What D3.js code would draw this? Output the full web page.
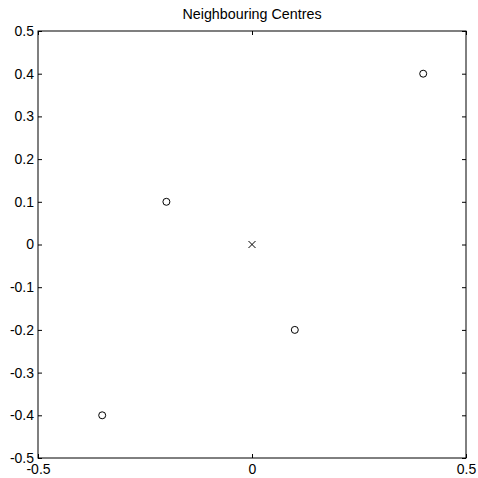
<!DOCTYPE html>
<html>
<head>
<meta charset="utf-8">
<script src="https://cdn.jsdelivr.net/npm/d3@7"></script>
<style>
  body { margin: 0; background: #fff; }
  text { font-family: "Liberation Sans", Arial, sans-serif; font-size: 14px; fill: #000; }
</style>
</head>
<body>
<div class="chartContainer"></div>
<script>
var title = "Neighbouring Centres";
var tickValues = [-0.5, -0.4, -0.3, -0.2, -0.1, 0, 0.1, 0.2, 0.3, 0.4, 0.5];
var xTickValues = [-0.5, 0, 0.5];
var neighbourX = [0.4, -0.2, 0.1, -0.35];
var neighbourY = [0.4, 0.1, -0.2, -0.4];
var centreX = [0];
var centreY = [0];

var width = 478, height = 478;
var mLeft = 38, mRight = 466, mTop = 31, mBottom = 458;

var svg = d3.select(".chartContainer")
    .append("svg")
    .attr("width", width)
    .attr("height", height);

var x = d3.scaleLinear().domain([-0.5, 0.5]).range([mLeft, mRight]);
var y = d3.scaleLinear().domain([-0.5, 0.5]).range([mBottom, mTop]);

// plain hyphen minus, like the original
function fmt(d) { return String(+d.toFixed(1)); }

svg.append("g")
    .attr("transform", "translate(0," + mBottom + ")")
    .call(d3.axisBottom(x).tickValues(xTickValues).tickSizeInner(-4).tickSizeOuter(0).tickPadding(6).tickFormat(fmt))
    .call(function (g) { g.select(".domain").remove(); });

svg.append("g")
    .attr("transform", "translate(0," + mTop + ")")
    .call(d3.axisTop(x).tickValues(xTickValues).tickSizeInner(-4).tickSizeOuter(0).tickFormat(""))
    .call(function (g) { g.select(".domain").remove(); });

svg.append("g")
    .attr("transform", "translate(" + mLeft + ",0)")
    .call(d3.axisLeft(y).tickValues(tickValues).tickSizeInner(-4).tickSizeOuter(0).tickPadding(4).tickFormat(fmt))
    .call(function (g) { g.select(".domain").remove(); });

svg.append("g")
    .attr("transform", "translate(" + mRight + ",0)")
    .call(d3.axisRight(y).tickValues(tickValues).tickSizeInner(-4).tickSizeOuter(0).tickFormat(""))
    .call(function (g) { g.select(".domain").remove(); });

svg.selectAll(".tick text")
    .style("font-size", "14px")
    .style("font-family", "'Liberation Sans', Arial, sans-serif")
    .attr("fill", "#000");

svg.append("rect")
    .attr("x", mLeft)
    .attr("y", mTop)
    .attr("width", mRight - mLeft)
    .attr("height", mBottom - mTop)
    .attr("fill", "none")
    .attr("stroke", "#000")
    .attr("stroke-width", 1);

svg.append("text")
    .attr("x", (mLeft + mRight) / 2)
    .attr("y", 19)
    .attr("text-anchor", "middle")
    .style("font-size", "14.3px")
    .text(title);

svg.selectAll("circle.nb")
    .data(neighbourX)
    .enter()
    .append("circle")
    .attr("class", "nb")
    .attr("cx", function (d) { return x(d); })
    .attr("cy", function (d, i) { return y(neighbourY[i]); })
    .attr("r", 3.5)
    .attr("fill", "none")
    .attr("stroke", "#000")
    .attr("stroke-width", 1);

var s = 3.5;
svg.selectAll("path.centre")
    .data(centreX)
    .enter()
    .append("path")
    .attr("class", "centre")
    .attr("d", function (d, i) {
        var cx = x(d), cy = y(centreY[i]);
        return "M" + (cx - s) + "," + (cy - s) + "L" + (cx + s) + "," + (cy + s) +
               "M" + (cx - s) + "," + (cy + s) + "L" + (cx + s) + "," + (cy - s);
    })
    .attr("stroke", "#000")
    .attr("stroke-width", 1)
    .attr("fill", "none");
</script>
</body>
</html>
